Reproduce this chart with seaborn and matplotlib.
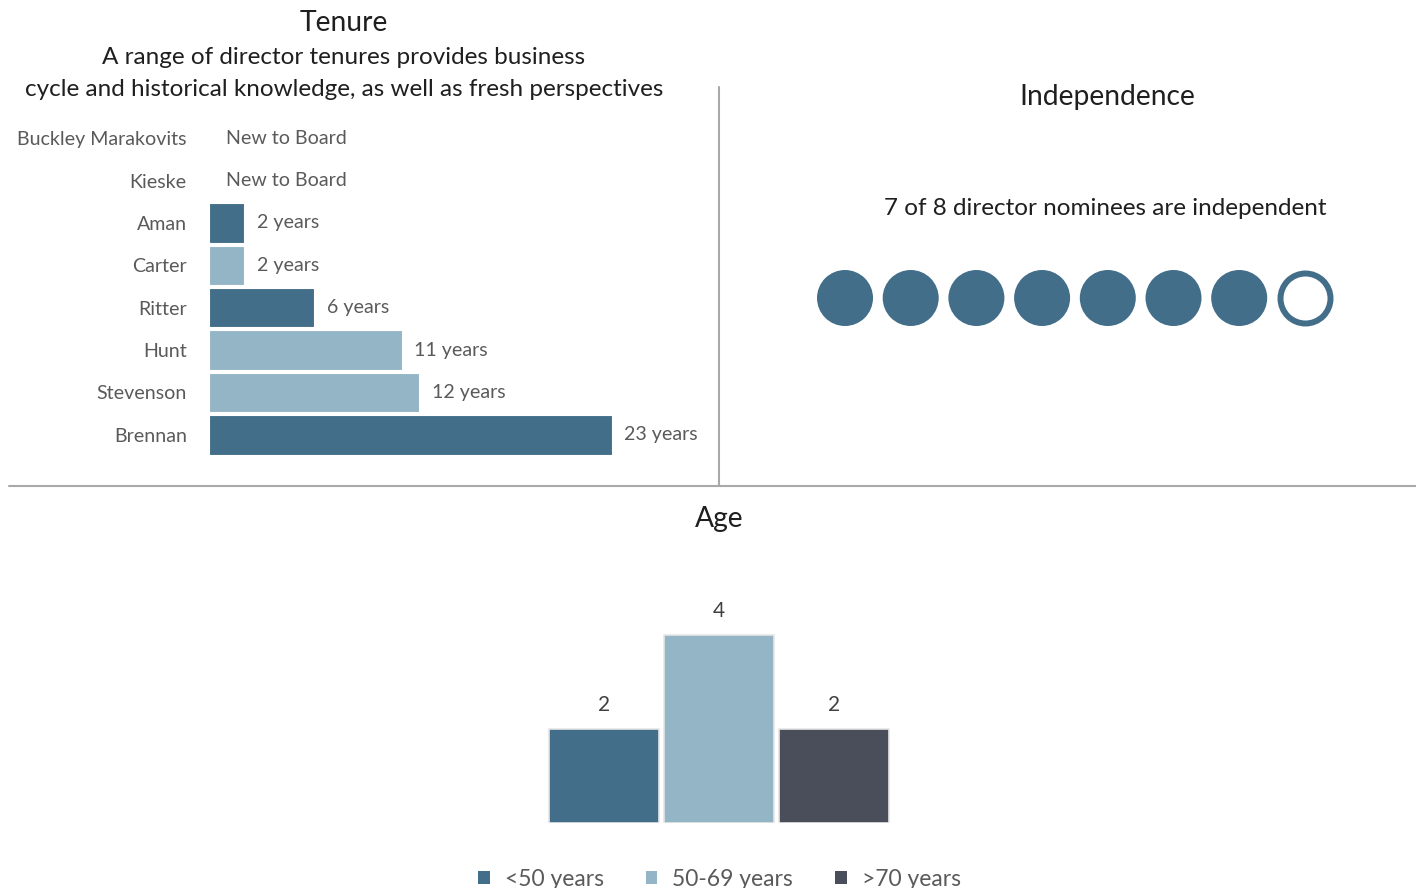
import matplotlib
matplotlib.use("Agg")
import matplotlib.pyplot as plt
from matplotlib.lines import Line2D
from matplotlib.patches import Patch
import numpy as np
import pandas as pd
import seaborn as sns

# ---- data ----
directors = ["Buckley Marakovits", "Kieske", "Aman", "Carter", "Ritter", "Hunt", "Stevenson", "Brennan"]
tenure_years = [None, None, 2, 2, 6, 11, 12, 23]
tenure_shade = [None, None, "dark", "light", "dark", "light", "light", "dark"]

independent = [True, True, True, True, True, True, True, False]

age_groups = ["<50 years", "50-69 years", ">70 years"]
age_counts = [2, 4, 2]

# ---- style ----
DARK = "#426E89"
LIGHT = "#94B5C6"
SLATE = "#4A4E5A"
GRID = "#A9A9A9"
TITLE_C = "#1F1F1F"
LABEL_C = "#5A5A5A"

sns.set_theme(style="white")
plt.rcParams["font.family"] = ["Lato", "DejaVu Sans"]

W, H = 1416, 888
fig = plt.figure(figsize=(W / 100, H / 100), dpi=100)


def rect(l, t, r, b):
    return [l / W, 1 - b / H, (r - l) / W, (b - t) / H]


def ftext(x, y, s, **kw):
    fig.text(x / W, 1 - y / H, s, **kw)


TITLE_FS = 20.3
SUB_FS = 17.5
LAB_FS = 14.1

# ---- Tenure ----
ax1 = fig.add_axes(rect(209, 117, 699, 456))
ten = pd.DataFrame({"director": directors, "years": tenure_years, "shade": tenure_shade})
ten_bars = ten.dropna(subset=["years"])
sns.barplot(data=ten_bars, x="years", y="director", hue="shade", order=directors,
            palette={"dark": DARK, "light": LIGHT}, saturation=1, dodge=False, width=0.93,
            edgecolor="white", linewidth=0.8, legend=False, ax=ax1)
ax1.set_xlim(0, 28)
ax1.set_ylim(7.5, -0.5)
ax1.set_xlabel("")
ax1.set_ylabel("")
ax1.set_xticks([])
ax1.tick_params(axis="y", length=0, pad=16, labelsize=LAB_FS, labelcolor=LABEL_C)
for s in ax1.spines.values():
    s.set_visible(False)
for i, (name, yrs) in enumerate(zip(directors, tenure_years)):
    if yrs is None:
        ax1.annotate("New to Board", xy=(0, i), xytext=(17, 0), textcoords="offset pixels",
                     va="center", ha="left", fontsize=LAB_FS, color=LABEL_C)
    else:
        ax1.annotate(f"{yrs} years", xy=(yrs, i), xytext=(13, 0), textcoords="offset pixels",
                     va="center", ha="left", fontsize=LAB_FS, color=LABEL_C)

ftext(344, 23, "Tenure", ha="center", va="center", fontsize=TITLE_FS, color=TITLE_C)
ftext(344, 57, "A range of director tenures provides business", ha="center", va="center",
      fontsize=SUB_FS, color=TITLE_C)
ftext(344, 89, "cycle and historical knowledge, as well as fresh perspectives", ha="center",
      va="center", fontsize=SUB_FS, color=TITLE_C)

# ---- Independence ----
ax2 = fig.add_axes(rect(779.3, 250, 1370.6, 346))
ind = pd.DataFrame({"pos": np.arange(len(independent)), "row": 0, "independent": independent})
sns.scatterplot(data=ind[ind["independent"]], x="pos", y="row", s=1626, color=DARK,
                edgecolor="none", ax=ax2)
sns.scatterplot(data=ind[~ind["independent"]], x="pos", y="row", s=1296, facecolor="white",
                edgecolor=DARK, linewidth=4.3, ax=ax2)
ax2.set_xlim(-1, 8)
ax2.set_ylim(-1, 1)
ax2.set_axis_off()

ftext(1107, 97, "Independence", ha="center", va="center", fontsize=TITLE_FS, color=TITLE_C)
n_ind = sum(independent)
ftext(1105, 208, f"{n_ind} of {len(independent)} director nominees are independent",
      ha="center", va="center", fontsize=SUB_FS, color=TITLE_C)

# ---- Age ----
ax3 = fig.add_axes(rect(604 - 1.5 * 115, 588, 834 + 1.5 * 115, 823))
age = pd.DataFrame({"group": age_groups, "count": age_counts})
sns.barplot(data=age, x="group", y="count", hue="group", order=age_groups,
            palette=[DARK, LIGHT, SLATE], saturation=1, dodge=False, width=0.965,
            edgecolor="#E6E6E6", linewidth=1.2, legend=False, ax=ax3)
ax3.set_xlim(-1.5, 3.5)
ax3.set_ylim(0, 5)
ax3.set_axis_off()
for i, c in enumerate(age_counts):
    ax3.annotate(f"{c}", xy=(i, c), xytext=(0, 24), textcoords="offset pixels",
                 ha="center", va="center", fontsize=15, color="#404040")

ftext(719, 519, "Age", ha="center", va="center", fontsize=TITLE_FS, color=TITLE_C)

handles = [Patch(facecolor=c, edgecolor="none") for c in [DARK, LIGHT, SLATE]]
fig.legend(handles, age_groups, loc="center", bbox_to_anchor=(719.5 / W, 1 - 879 / H),
           ncol=3, frameon=False, fontsize=16.5, labelcolor=LABEL_C,
           handlelength=0.5, handleheight=0.5, handletextpad=0.65, columnspacing=1.85)

# ---- separators ----
fig.add_artist(Line2D([719 / W, 719 / W], [1 - 87 / H, 1 - 485 / H], color=GRID, lw=1.5))
fig.add_artist(Line2D([9 / W, 1], [1 - 486 / H, 1 - 486 / H], color=GRID, lw=1.5))

fig.savefig("out.png", dpi=100, facecolor="white")
